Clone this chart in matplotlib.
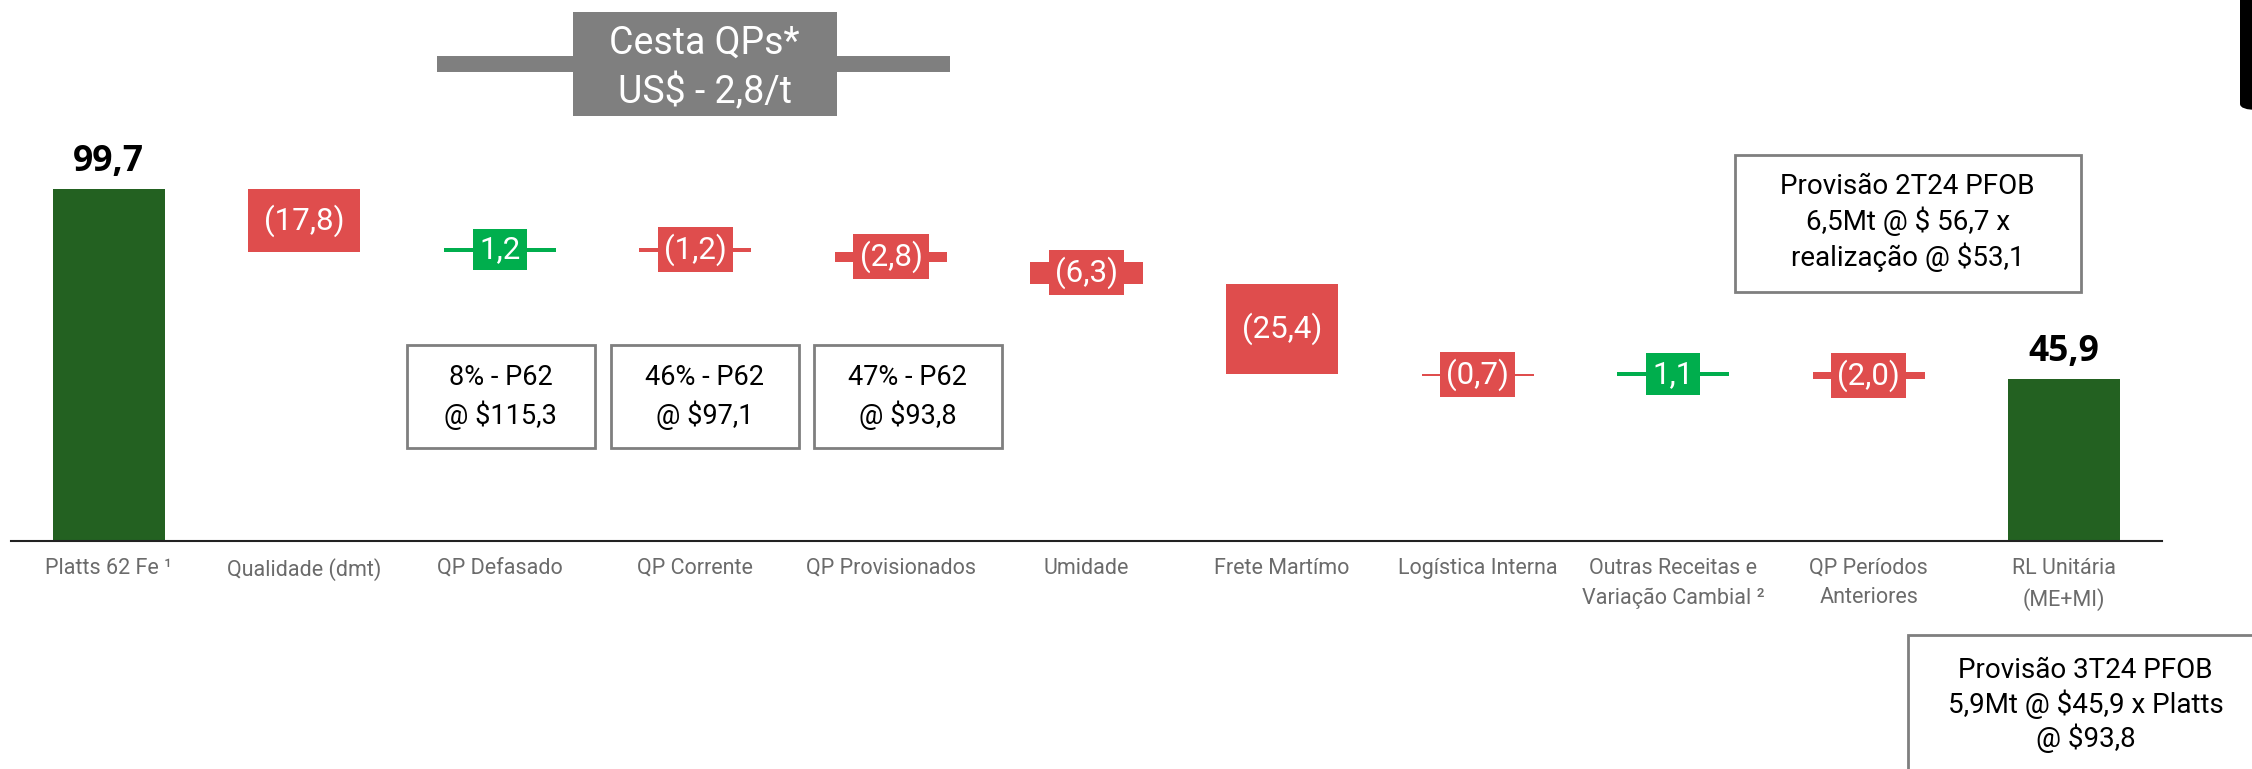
import matplotlib.pyplot as plt
from matplotlib.patches import Rectangle, FancyBboxPatch

plt.rcParams['font.family'] = ['Roboto', 'DejaVu Sans']
plt.rcParams['text.parse_math'] = False

# data
categories = ['Platts 62 Fe ¹', 'Qualidade (dmt)', 'QP Defasado', 'QP Corrente',
              'QP Provisionados', 'Umidade', 'Frete Martímo', 'Logística Interna',
              'Outras Receitas e\nVariação Cambial ²', 'QP Períodos\nAnteriores',
              'RL Unitária\n(ME+MI)']
start_value = 99.7
deltas = [-17.8, 1.2, -1.2, -2.8, -6.3, -25.4, -0.7, 1.1, -2.0]
end_value = 45.9
qp_notes = ['8% - P62\n@ $115,3', '46% - P62\n@ $97,1', '47% - P62\n@ $93,8']
cesta_text = 'Cesta QPs*\nUS$ - 2,8/t'
prov_2t24 = 'Provisão 2T24 PFOB\n6,5Mt @ $ 56,7 x\nrealização @ $53,1'
prov_3t24 = 'Provisão 3T24 PFOB\n5,9Mt @ $45,9 x Platts\n@ $93,8'

dark_green = '#236121'
red = '#DF4D4D'
green = '#00AE4D'
gray = '#7F7F7F'

fig = plt.figure(figsize=(22.52, 7.69), dpi=100)
ax = fig.add_axes([11 / 2252, 228 / 769, 2151 / 2252, 150 * 3.531 / 769])
ax.set_xlim(-0.5, 10.5)
ax.set_ylim(0, 150)

w = 0.573
fmt = lambda v: ('(%.1f)' % abs(v) if v < 0 else '%.1f' % v).replace('.', ',')

# totals
ax.bar(0, start_value, width=w, color=dark_green)
ax.bar(len(categories) - 1, end_value, width=w, color=dark_green)
for x, v in [(0, start_value), (len(categories) - 1, end_value)]:
    ax.annotate(fmt(v), (x, v), xytext=(0, 13), textcoords='offset points',
                ha='center', va='baseline', fontsize=25.5, fontweight='bold',
                family='Open Sans', color='black')

# deltas
level = start_value
for i, d in enumerate(deltas, start=1):
    new = level + d
    lo = min(level, new)
    c = red if d < 0 else green
    ax.bar(i, abs(d), bottom=lo, width=w, color=c)
    ax.text(i, lo + abs(d) / 2, fmt(d), ha='center', va='center', color='white',
            fontsize=22.5, bbox=dict(boxstyle='square,pad=0.2', fc=c, ec='none'))
    level = new

# cesta QPs bracket
ax.plot([1.68, 4.30], [135.1, 135.1], color=gray, lw=11.5, solid_capstyle='butt',
        clip_on=False)
ax.add_patch(Rectangle((2.372, 120.4), 1.35, 29.4, fc=gray, ec='none', clip_on=False))
ax.text(3.047, 134.0, cesta_text, ha='center', va='center', color='white',
        fontsize=27, linespacing=1.38)

# QP note boxes
for xc, note in zip([2.004, 3.047, 4.085], qp_notes):
    ax.add_patch(Rectangle((xc - 0.48, 26.3), 0.961, 29.2, fc='white', ec=gray,
                           lw=2, clip_on=False))
    ax.text(xc, 40.9, note, ha='center', va='center', color='black', fontsize=19.5,
            linespacing=1.4)

# provisao boxes
ax.add_patch(Rectangle((8.318, 70.5), 1.769, 38.8, fc='white', ec=gray, lw=2,
                       clip_on=False))
ax.text(9.2, 90.2, prov_2t24, ha='center', va='center', color='black', fontsize=20,
        linespacing=1.27)
ax.add_patch(Rectangle((9.202, -75), 2.0, 48.4, fc='white', ec=gray, lw=2,
                       clip_on=False))
ax.text(10.11, -46.5, prov_3t24, ha='center', va='center', color='black', fontsize=20,
        linespacing=1.2, clip_on=False)

# axis styling
for s in ['top', 'left', 'right']:
    ax.spines[s].set_visible(False)
ax.spines['bottom'].set_color('#222222')
ax.spines['bottom'].set_linewidth(1.5)
ax.set_yticks([])
ax.set_xticks(range(len(categories)), categories)
ax.tick_params(axis='x', length=0, pad=12, labelsize=15.5, labelcolor='#6B6B6B')
for t in ax.get_xticklabels():
    t.set_linespacing(1.55)

# corner artifact
fig.patches.append(FancyBboxPatch((2240 / 2252, 1 - 110 / 769), 0.02, 0.2,
                                  boxstyle='round,pad=0,rounding_size=0.008',
                                  transform=fig.transFigure, fc='black', ec='none'))

plt.savefig('out.png', dpi=100)
plt.close()
